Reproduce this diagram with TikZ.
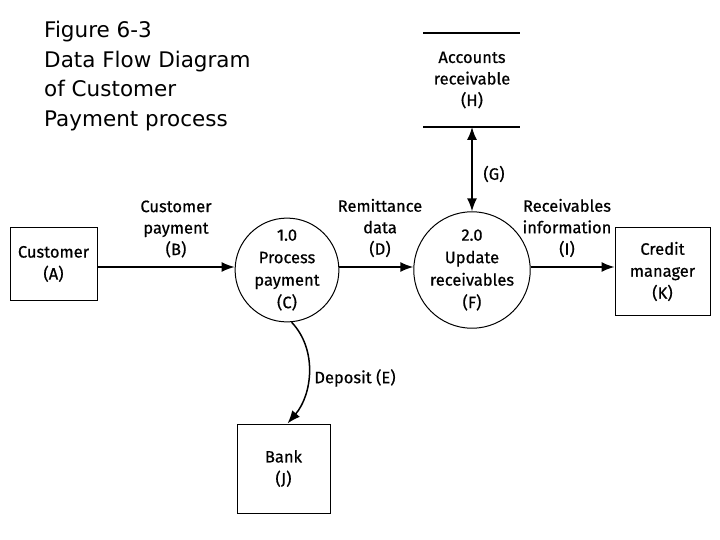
\documentclass[tikz,border=0pt]{standalone}
\usepackage{fontspec}
\setmainfont{Fira Sans}[FakeBold=0.6]
\newfontfamily\titlefont{DejaVu Sans}
\usetikzlibrary{arrows.meta,calc}
\begin{document}
\begin{tikzpicture}[x=1pt,y=-1pt,
  lbl/.style={align=center,font=\fontsize{16.5}{21.5}\selectfont,inner sep=0pt},
  entity/.style={draw,line width=1pt,align=center,font=\fontsize{16.5}{22}\selectfont,inner sep=0pt},
  proc/.style={draw,circle,line width=1pt,align=center,font=\fontsize{16.5}{22.5}\selectfont,inner sep=0pt},
  flow/.style={line width=1.5pt,-{Latex[length=13pt,width=10pt]}},
  storeline/.style={line width=1.4pt}]
\useasboundingbox (0,0) rectangle (720,540);
\fill[white] (0,0) rectangle (720,540);
% title
\node[anchor=north west,align=left,inner sep=0pt,font=\titlefont\fontsize{21.5}{29.5}\selectfont] (title) at (44,21)
 {Figure 6-3\\Data Flow Diagram\\of Customer\\Payment process};
% entities
\node[entity,minimum width=87pt,minimum height=72pt] (A) at (53.5,264) {Customer\\(A)};
\node[entity,minimum width=95pt,minimum height=87pt] (K) at (662.5,271.5) {Credit\\manager\\(K)};
\node[entity,minimum width=93pt,minimum height=89pt] (J) at (283.5,468.5) {Bank\\(J)};
% processes
\node[proc,minimum size=98pt] (C) at (287,270) {1.0\\Process\\payment\\(C)};
\node[proc,minimum size=100pt] (F) at (472,270) {2.0\\Update\\receivables\\(F)};
% data store
\coordinate (H1) at (423,33);
\coordinate (H2) at (520,33);
\coordinate (H3) at (423,127);
\coordinate (H4) at (520,127);
\draw[storeline] (H1) -- (H2);
\draw[storeline] (H3) -- (H4);
\node[lbl] (H) at (472,80) {Accounts\\receivable\\(H)};
\coordinate (Hb) at (472,127);
% flows
\draw[flow] (A.east |- 0,267) -- (C.west |- 0,267);
\draw[flow] (C.east |- 0,267) -- (F.west |- 0,267);
\draw[flow] (F.east |- 0,267) -- (K.west |- 0,267);
\draw[line width=1.5pt,{Latex[length=13pt,width=10pt]}-{Latex[length=13pt,width=10pt]}] (Hb) -- (F.north);
\draw[flow] (C.-85) .. controls (318,350) and (312,395) .. ($(J.north)+(4,0)$);
% labels
\node[lbl] (lB) at (176,229) {Customer\\payment\\(B)};
\node[lbl] (lD) at (380,228) {Remittance\\data\\(D)};
\node[lbl] (lI) at (567,228) {Receivables\\information\\(I)};
\node[lbl] (lG) at (494,174) {(G)};
\node[lbl] (lE) at (355,378) {Deposit (E)};
\end{tikzpicture}
\end{document}
